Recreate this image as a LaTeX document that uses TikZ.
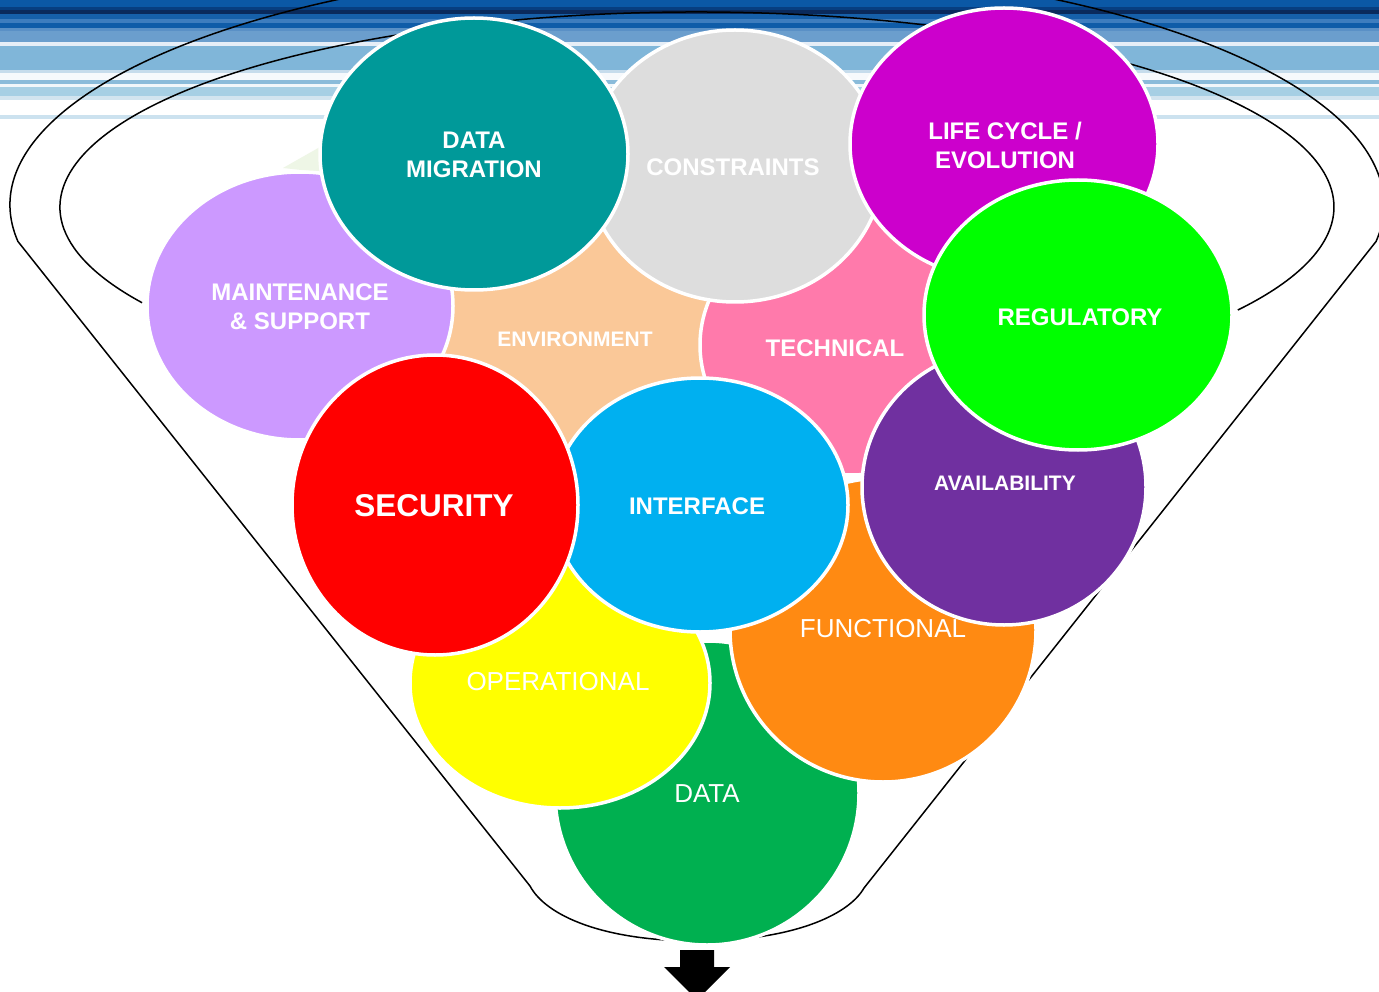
\documentclass[tikz,border=0pt]{standalone}
\usepackage{fontspec}
\setmainfont{Liberation Sans}
\usetikzlibrary{shapes.geometric}
\definecolor{cMaint}{HTML}{CC99FF}
\definecolor{cMig}{HTML}{009999}
\definecolor{cCons}{HTML}{DDDDDD}
\definecolor{cLife}{HTML}{CC00CC}
\definecolor{cReg}{HTML}{00FF00}
\definecolor{cEnv}{HTML}{FAC898}
\definecolor{cTech}{HTML}{FF7AAB}
\definecolor{cInt}{HTML}{00B0F0}
\definecolor{cSec}{HTML}{FF0000}
\definecolor{cAvail}{HTML}{7030A0}
\definecolor{cFunc}{HTML}{FF8A12}
\definecolor{cOper}{HTML}{FFFF00}
\definecolor{cData}{HTML}{00B050}
\definecolor{cPale}{HTML}{EEF6E6}
\begin{document}
\begin{tikzpicture}[x=1pt,y=-1pt,
  blob/.style={ellipse, draw=white, line width=3.5pt, inner sep=0pt, outer sep=0pt},
  lbl/.style={text=white, font=\bfseries\fontsize{24}{29}\selectfont, align=center, inner sep=0pt},
  lbls/.style={text=white, font=\bfseries\fontsize{21}{25}\selectfont, align=center, inner sep=0pt},
  lblr/.style={text=white, font=\fontsize{26}{31}\selectfont, align=center, inner sep=0pt},
  funnel/.style={draw=black, line width=1.5pt}]
\useasboundingbox (0,0) rectangle (1379,992);
\clip (0,0) rectangle (1379,992);
\fill[white] (0,0) rectangle (1379,992);
% background stripes
\foreach \ya/\yb/\col in {0/7/0B58A5, 7/10/073E80, 10/14/0A2A5C, 14/19/1660AA, 19/23/3E7DBE,
  23/28/0F5CA8, 28/31/5A90C6, 31/42/6B9ECD, 42/46/E6EEF7, 46/70/80B6D9, 70/73/C6DCEC,
  73/80/F6F9FC, 80/84/8ABBDA, 84/87/F0F6FA, 87/96/A6CFE4, 96/100/D2E4EF, 115/119/CCE2EF}{
  \definecolor{tmpc}{HTML}{\col}
  \fill[tmpc] (0,\ya) rectangle (1379,\yb);
}
% funnel outline
\draw[funnel] (697,205) ++(188.7:687pt and 241pt) coordinate (fl)
  arc[start angle=188.7, end angle=-8.7, x radius=687pt, y radius=241pt] coordinate (fr)
  -- (864,888) coordinate (fbr)
  .. controls (848,916) and (790,941) .. (697,941)
  .. controls (604,941) and (546,916) .. (530,886) coordinate (fbl) -- cycle;
\draw[funnel] (697,207) ++(209.4:637pt and 195pt) coordinate (il)
  arc[start angle=209.4, end angle=-31.9, x radius=637pt, y radius=195pt] coordinate (ir);
% arrow
\fill[black] (680,950) -- (714,950) -- (714,967) -- (730,967) -- (697,1000) -- (664,967) -- (680,967) -- cycle;
% pale sliver
\fill[cPale] (283,168) -- (320,147) -- (320,172) -- cycle;
% circles, back to front
\node[blob, fill=cData, minimum width=304pt, minimum height=304pt] (data) at (707,793) {};
\node[blob, fill=cOper, minimum width=300pt, minimum height=250pt] (oper) at (560,683) {};
\node[blob, fill=cFunc, minimum width=306pt, minimum height=304pt] (func) at (883,630) {};
\node[blob, fill=cEnv, minimum width=300pt, minimum height=270pt] (env) at (575,345) {};
\node[blob, fill=cTech, minimum width=300pt, minimum height=260pt] (tech) at (850,345) {};
\node[blob, fill=cCons, minimum width=296pt, minimum height=272pt] (cons) at (735,166) {};
\node[blob, fill=cMaint, minimum width=306pt, minimum height=268pt] (maint) at (300,306) {};
\node[blob, fill=cMig, minimum width=308pt, minimum height=272pt] (mig) at (474,154) {};
\node[blob, fill=cLife, minimum width=308pt, minimum height=272pt] (life) at (1004,144) {};
\node[blob, fill=cInt, minimum width=296pt, minimum height=254pt] (inter) at (700,505) {};
\node[blob, fill=cSec, minimum width=286pt, minimum height=300pt] (sec) at (435,505) {};
\node[blob, fill=cAvail, minimum width=284pt, minimum height=276pt] (avail) at (1004,487) {};
\node[blob, fill=cReg, minimum width=308pt, minimum height=270pt] (reg) at (1078,315) {};
% labels
\node[lbl] (migT) at (474,154.5) {DATA\\MIGRATION};
\node[lbl] (consT) at (733,167) {CONSTRAINTS};
\node[lbl] (lifeT) at (1005,145.5) {LIFE CYCLE /\\EVOLUTION};
\node[lbl] (maintT) at (300,306.5) {MAINTENANCE\\\&~SUPPORT};
\node[lbls] (envT) at (575,339) {ENVIRONMENT};
\node[lbl] (techT) at (835,348) {TECHNICAL};
\node[lbl] (regT) at (1080,317) {REGULATORY};
\node[text=white, font=\bfseries\fontsize{31.5}{36}\selectfont, inner sep=0pt] (secT) at (434,506) {SECURITY};
\node[lbl] (intT) at (697,506) {INTERFACE};
\node[lbls] (availT) at (1005,483) {AVAILABILITY};
\node[lblr] (funcT) at (883,629) {FUNCTIONAL};
\node[lblr] (operT) at (558,682) {OPERATIONAL};
\node[lblr] (dataT) at (707,794) {DATA};
\end{tikzpicture}
\end{document}
